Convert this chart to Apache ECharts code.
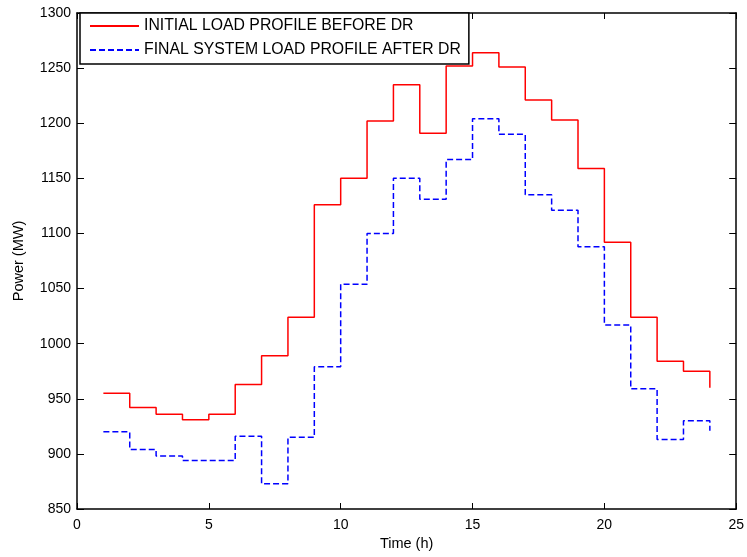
<!DOCTYPE html>
<html>
<head>
<meta charset="utf-8">
<script src="https://cdn.jsdelivr.net/npm/echarts@6/dist/echarts.min.js"></script>
<style>
html,body{margin:0;padding:0;background:#fff;}
#chart{width:747px;height:557px;}
</style>
</head>
<body>
<div id="chart"></div>
<script>
// Hours (stairs start points)
const hours = [1,2,3,4,5,6,7,8,9,10,11,12,13,14,15,16,17,18,19,20,21,22,23,24];
// Initial load profile before DR (MW)
const initialLoad = [955,942,936,931,936,963,989,1024,1126,1150,1202,1235,1191,1252,1264,1251,1221,1203,1159,1092,1024,984,975,960];
// Final system load profile after DR (MW)
const finalLoad = [920,904,898,894,894,916,873,915,979,1054,1100,1150,1131,1167,1204,1190,1135,1121,1088,1017,959,913,930,921];
const xTicks = [0,5,10,15,20,25];
const yTicks = [850,900,950,1000,1050,1100,1150,1200,1250,1300];
const seriesNames = ['INITIAL LOAD PROFILE BEFORE DR','FINAL SYSTEM LOAD PROFILE AFTER DR'];

const font = 'Liberation Sans, Arial, Helvetica, sans-serif';
const chart = echarts.init(document.getElementById('chart'), null, {renderer:'canvas'});

const axisLineStyle = {color:'#000', width:1.5};
const xCommon = {
  type:'value', min:xTicks[0], max:xTicks[xTicks.length-1], interval:5,
  splitLine:{show:false},
  axisLine:{show:true, onZero:false, lineStyle:axisLineStyle},
  axisTick:{show:true, inside:true, length:6, lineStyle:{color:'#000', width:1}}
};
const yCommon = {
  type:'value', min:yTicks[0], max:yTicks[yTicks.length-1], interval:50,
  splitLine:{show:false},
  axisLine:{show:true, onZero:false, lineStyle:axisLineStyle},
  axisTick:{show:true, inside:true, length:7, lineStyle:{color:'#000', width:1}}
};

const option = {
  backgroundColor:'#fff',
  animation:false,
  textStyle:{fontFamily:font},
  grid:{left:77, right:8, top:13, bottom:48, containLabel:false},
  legend:{
    show:true,
    orient:'vertical',
    left:80, top:13,
    padding:[5,8,6,9],
    itemWidth:49, itemHeight:14, itemGap:8,
    borderColor:'#000', borderWidth:1.5,
    backgroundColor:'#fff',
    itemStyle:{opacity:0, color:'transparent', borderWidth:0},
    textStyle:{fontFamily:font, fontSize:15.8, color:'#000', padding:[0,0,0,0]},
    data:seriesNames
  },
  xAxis:[
    Object.assign({}, xCommon, {
      position:'bottom',
      name:'Time (h)', nameLocation:'middle', nameGap:26,
      nameTextStyle:{fontFamily:font, fontSize:14.5, color:'#000'},
      axisLabel:{show:true, margin:9, fontFamily:font, fontSize:14, color:'#000', formatter:v=>String(v)}
    }),
    Object.assign({}, xCommon, {position:'top', axisLabel:{show:false}})
  ],
  yAxis:[
    Object.assign({}, yCommon, {
      position:'left',
      name:'Power (MW)', nameLocation:'middle', nameGap:51,
      nameTextStyle:{fontFamily:font, fontSize:14.5, color:'#000'},
      axisLabel:{show:true, margin:6, fontFamily:font, fontSize:14, color:'#000', formatter:v=>String(v)}
    }),
    Object.assign({}, yCommon, {position:'right', axisLabel:{show:false}})
  ],
  series:[
    {
      name:seriesNames[0], type:'line', step:'end',
      xAxisIndex:0, yAxisIndex:0,
      symbol:'none', showSymbol:false,
      lineStyle:{color:'#ff0000', width:1.5, type:'solid'},
      itemStyle:{color:'#ff0000'},
      data:hours.map((h,i)=>[h, initialLoad[i]])
    },
    {
      name:seriesNames[1], type:'line', step:'end',
      xAxisIndex:0, yAxisIndex:0,
      symbol:'none', showSymbol:false,
      lineStyle:{color:'#0000ff', width:1.5, type:[6,3]},
      itemStyle:{color:'#0000ff'},
      data:hours.map((h,i)=>[h, finalLoad[i]])
    }
  ]
};
chart.setOption(option);
</script>
</body>
</html>
